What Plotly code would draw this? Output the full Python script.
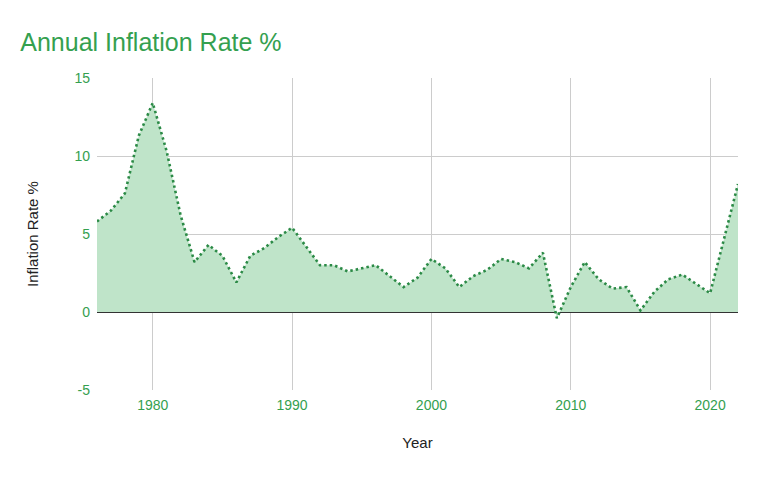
import plotly.graph_objects as go

years = list(range(1976, 2023))
inflation = [5.8, 6.5, 7.6, 11.3, 13.4, 10.3, 6.2, 3.2, 4.3, 3.6, 1.9, 3.6, 4.1, 4.8, 5.4,
             4.2, 3.0, 3.0, 2.6, 2.8, 3.0, 2.3, 1.6, 2.2, 3.4, 2.8, 1.6, 2.3, 2.7, 3.4,
             3.2, 2.8, 3.8, -0.4, 1.6, 3.2, 2.1, 1.5, 1.6, 0.1, 1.3, 2.1, 2.4, 1.8, 1.2,
             4.7, 8.2]
y_ticks = [-5, 0, 5, 10, 15]
y_tick_labels = ["-5", "0", "5", "10", "15"]
x_ticks = [1980, 1990, 2000, 2010, 2020]

green_text = "#34a04f"
font = "Liberation Sans, Arial, sans-serif"

fig = go.Figure()
fig.add_trace(go.Scatter(
    x=years, y=inflation, mode="lines", fill="tozeroy",
    fillcolor="#bfe4c9",
    line=dict(color="#2b8a46", width=2.6, dash="2.5px,3px"),
    showlegend=False,
))

fig.update_layout(
    width=768, height=480,
    margin=dict(l=89, r=38, t=70, b=98),
    paper_bgcolor="white", plot_bgcolor="white",
    font=dict(family=font, size=14, color=green_text),
    title=dict(text="Annual Inflation Rate %", x=0.016, xanchor="left",
               y=0.928, yanchor="middle",
               font=dict(family=font, size=25, color=green_text)),
    xaxis=dict(range=[1976, 2022], tickvals=x_ticks, showgrid=True,
               gridcolor="#cccccc", gridwidth=1, zeroline=False,
               showline=False, ticks="", ticklabelstandoff=5,
               tickfont=dict(family=font, size=14, color=green_text),
               title=dict(text="Year", font=dict(family=font, size=15, color="#222222"),
                          standoff=25)),
    yaxis=dict(range=[-5, 15], tickvals=y_ticks, ticktext=y_tick_labels, showgrid=True,
               gridcolor="#cccccc", gridwidth=1, zeroline=True,
               zerolinecolor="#333333", zerolinewidth=1.3,
               showline=False, ticks="", ticklabelstandoff=6,
               tickfont=dict(family=font, size=14, color=green_text),
               title=dict(text="Inflation Rate %", font=dict(family=font, size=15, color="#222222"),
                          standoff=32)),
)

fig.write_html("out.html")
